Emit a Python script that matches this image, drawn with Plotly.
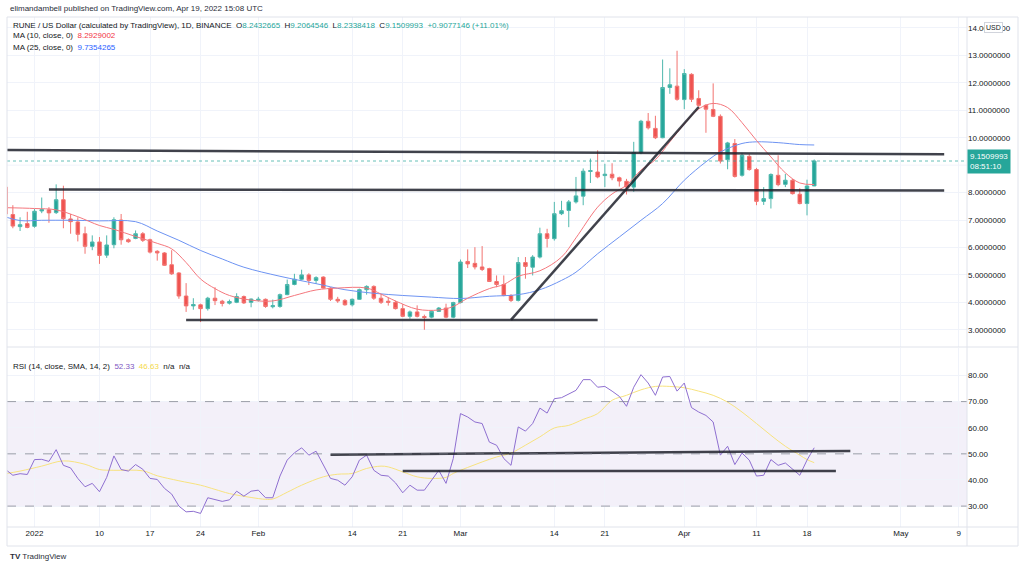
import pandas as pd
import plotly.graph_objects as go

# ---------------- data ----------------
dates = pd.date_range("2021-12-28", "2022-04-19", freq="D")

opens = [8.20, 7.20, 6.76, 6.87,
         6.77, 7.33, 7.37, 7.27, 7.74, 7.04, 6.93, 6.50, 6.04, 6.20, 5.72, 6.10, 7.00, 6.28, 6.33, 6.50,
         6.28, 5.86, 5.80, 5.37, 5.07, 4.23, 3.87, 3.91, 3.77, 4.15, 4.04, 3.97, 4.00, 4.21, 4.00,
         4.08, 4.11, 3.84, 3.85, 4.28, 4.65, 4.84, 5.00, 4.80, 4.92, 4.52, 4.11, 4.07, 3.91, 4.11, 4.46,
         4.58, 4.15, 4.04, 4.00, 3.77, 3.49, 3.65, 3.48, 3.46, 3.67, 3.79, 3.46,
         3.99, 5.49, 5.42, 5.29, 5.23, 4.76, 4.65, 4.25, 4.07, 5.45, 5.28, 5.65, 6.50, 6.32, 7.23, 7.35,
         7.66, 7.87, 8.77, 8.75, 8.62, 8.67, 8.54, 8.41, 8.20, 9.46, 10.60, 10.34, 10.00, 11.83, 11.88,
         11.39, 12.31, 11.43, 11.18, 11.03, 10.78, 9.20, 9.79, 8.63, 9.32, 8.84, 7.68, 7.78, 8.63, 8.30,
         8.45, 7.94, 7.60, 8.2432665]
highs = [8.25, 7.54, 7.10, 7.30,
         7.40, 7.82, 7.47, 8.30, 8.25, 7.22, 7.10, 6.76, 6.44, 6.38, 6.44, 7.10, 7.22, 6.33, 6.62, 6.56,
         6.32, 5.90, 5.83, 5.90, 5.10, 4.70, 4.15, 3.95, 4.20, 4.55, 4.09, 4.10, 4.33, 4.25, 4.14,
         4.20, 4.14, 4.10, 4.32, 4.83, 5.04, 5.19, 5.06, 4.95, 4.95, 4.55, 4.20, 4.12, 4.14, 4.50, 4.62,
         4.62, 4.30, 4.18, 4.06, 3.93, 3.70, 3.89, 3.55, 3.70, 3.83, 3.95, 4.02,
         5.56, 5.93, 6.01, 6.05, 5.26, 4.98, 4.98, 4.30, 5.65, 5.65, 5.72, 6.72, 6.68, 7.66, 7.70, 7.73,
         8.57, 8.88, 9.24, 9.54, 9.05, 9.07, 8.58, 8.50, 9.85, 10.65, 10.90, 10.80, 12.85, 12.53, 13.17,
         12.50, 12.35, 11.73, 11.22, 11.98, 10.85, 9.85, 9.95, 9.45, 9.40, 8.90, 8.20, 8.70, 9.36, 8.68,
         8.50, 8.16, 8.47, 9.2064546]
lows = [7.15, 6.70, 6.60, 6.70,
        6.72, 7.25, 6.90, 7.22, 6.70, 6.50, 6.22, 5.77, 5.90, 5.40, 5.62, 5.97, 6.10, 6.17, 6.30, 6.20,
        5.78, 5.52, 5.33, 5.00, 4.13, 3.65, 3.73, 3.28, 3.70, 3.90, 3.85, 3.92, 3.97, 3.94, 3.82,
        4.03, 3.80, 3.78, 3.80, 4.26, 4.62, 4.80, 4.63, 4.67, 4.50, 4.05, 3.98, 3.88, 3.85, 4.09, 4.28,
        4.09, 3.94, 3.88, 3.74, 3.46, 3.40, 3.45, 3.00, 3.42, 3.65, 3.42, 3.42,
        3.96, 5.25, 5.20, 5.14, 4.74, 4.55, 4.22, 4.01, 4.03, 4.86, 4.98, 5.60, 6.00, 6.25, 7.18, 6.74,
        7.60, 7.54, 8.35, 8.52, 8.20, 8.45, 8.22, 7.93, 8.03, 9.40, 10.30, 9.95, 9.98, 11.60, 11.35,
        11.04, 11.30, 11.10, 10.18, 10.75, 9.06, 8.85, 8.55, 8.58, 8.80, 7.54, 7.55, 7.42, 8.23, 8.20,
        7.93, 7.57, 7.17, 8.2338418]
closes = [7.22, 6.78, 6.83, 6.73,
          7.32, 7.38, 7.26, 7.74, 7.05, 6.94, 6.48, 6.04, 6.20, 5.71, 6.09, 7.01, 6.28, 6.21, 6.50, 6.26,
          5.83, 5.80, 5.35, 5.04, 4.23, 3.87, 3.92, 3.77, 4.15, 4.06, 3.96, 4.03, 4.21, 3.98, 4.12,
          4.11, 3.85, 3.88, 4.28, 4.65, 4.84, 5.00, 4.80, 4.90, 4.52, 4.11, 4.05, 3.91, 4.11, 4.46, 4.58,
          4.15, 4.00, 4.00, 3.77, 3.49, 3.65, 3.49, 3.45, 3.67, 3.79, 3.46, 3.99,
          5.47, 5.40, 5.29, 5.20, 4.76, 4.65, 4.25, 4.07, 5.45, 5.31, 5.65, 6.50, 6.33, 7.23, 7.34, 7.66,
          7.88, 8.78, 8.80, 8.57, 8.67, 8.54, 8.42, 8.20, 9.46, 10.60, 10.36, 10.00, 11.83, 11.93, 11.40,
          12.34, 11.40, 11.18, 11.04, 10.78, 9.15, 9.81, 8.59, 9.36, 8.84, 7.68, 7.78, 8.66, 8.29, 8.45,
          7.96, 7.60, 8.24, 9.1509993]

ma10_dates = ["2021-12-28", "2022-01-01", "2022-01-04", "2022-01-07", "2022-01-10", "2022-01-12",
              "2022-01-15", "2022-01-18", "2022-01-20", "2022-01-22", "2022-01-24", "2022-01-26",
              "2022-01-28", "2022-01-31", "2022-02-03", "2022-02-06", "2022-02-09", "2022-02-12",
              "2022-02-16", "2022-02-18", "2022-02-20", "2022-02-23", "2022-02-26", "2022-02-28",
              "2022-03-02", "2022-03-05", "2022-03-07", "2022-03-09", "2022-03-12", "2022-03-15",
              "2022-03-17", "2022-03-20", "2022-03-22", "2022-03-24", "2022-03-26", "2022-03-28",
              "2022-03-30", "2022-04-01", "2022-04-03", "2022-04-05", "2022-04-07", "2022-04-09",
              "2022-04-11", "2022-04-13", "2022-04-15", "2022-04-17", "2022-04-19"]
ma10_vals = [7.45, 7.42, 7.37, 7.12, 6.80, 6.66, 6.40, 6.15, 5.95, 5.45, 4.85, 4.50, 4.25, 4.08,
             4.05, 4.25, 4.45, 4.52, 4.52, 4.30, 4.05, 3.75, 3.72, 3.85, 4.15, 4.50, 4.65, 4.95, 5.15,
             5.65, 6.35, 7.47, 7.95, 8.27, 8.82, 9.20, 9.85, 10.50, 11.05, 11.25, 11.10, 10.55, 9.90,
             9.30, 8.72, 8.35, 8.2929002]

ma25_dates = ["2021-12-28", "2021-12-30", "2022-01-02", "2022-01-06", "2022-01-10", "2022-01-15",
              "2022-01-18", "2022-01-21", "2022-01-24", "2022-01-27", "2022-01-30", "2022-02-04",
              "2022-02-09", "2022-02-13", "2022-02-17", "2022-02-21", "2022-02-25", "2022-03-01",
              "2022-03-05", "2022-03-09", "2022-03-12", "2022-03-15", "2022-03-17", "2022-03-20",
              "2022-03-23", "2022-03-26", "2022-03-29", "2022-04-01", "2022-04-04", "2022-04-06",
              "2022-04-09", "2022-04-11", "2022-04-14", "2022-04-17", "2022-04-19"]
ma25_vals = [7.11, 6.98, 6.99, 6.99, 6.97, 6.94, 6.60, 6.26, 5.89, 5.58, 5.28, 4.95, 4.68, 4.46,
             4.33, 4.25, 4.19, 4.14, 4.22, 4.28, 4.46, 4.80, 5.10, 5.77, 6.38, 6.99, 7.60, 8.45, 9.12,
             9.48, 9.79, 9.85, 9.82, 9.75, 9.7354265]

rsi_vals = [44.0, 41.8, 42.4, 42.1,
            47.8, 47.9, 47.1, 51.6, 45.6, 44.6, 40.6, 37.4, 38.7, 35.5, 41.0, 49.2, 44.0, 43.4, 45.9, 44.1,
            40.6, 40.2, 36.8, 34.6, 30.0, 27.8, 28.0, 27.2, 33.2, 32.6, 31.8, 32.4, 35.7, 33.8, 35.7,
            36.1, 33.2, 33.2, 41.5, 47.6, 50.4, 52.3, 49.5, 51.0, 45.6, 40.6, 39.9, 38.0, 41.2, 47.6, 49.5,
            43.7, 41.8, 41.5, 38.9, 35.1, 38.0, 36.1, 36.1, 39.9, 43.7, 38.7, 48.2,
            65.4, 64.1, 62.2, 61.6, 54.5, 53.3, 48.2, 45.6, 60.3, 58.7, 61.6, 67.5, 65.6, 71.1, 71.5, 73.0,
            74.3, 78.4, 78.4, 75.5, 75.8, 74.0, 72.0, 68.2, 75.5, 80.3, 77.1, 72.4, 79.4, 79.6, 74.0,
            77.1, 67.7, 66.0, 64.7, 62.2, 49.5, 52.9, 45.9, 50.3, 47.6, 41.5, 41.8, 47.8, 45.6, 46.5,
            44.0, 41.8, 47.6, 52.33]

rsi_ma_dates = ["2021-12-28", "2021-12-30", "2022-01-02", "2022-01-05", "2022-01-08", "2022-01-10",
                "2022-01-12", "2022-01-16", "2022-01-18", "2022-01-21", "2022-01-24", "2022-01-26",
                "2022-01-28", "2022-01-31", "2022-02-02", "2022-02-03", "2022-02-05", "2022-02-07",
                "2022-02-10", "2022-02-12", "2022-02-14", "2022-02-16", "2022-02-18", "2022-02-19",
                "2022-02-21", "2022-02-23", "2022-02-25", "2022-02-27", "2022-02-28", "2022-03-02",
                "2022-03-04", "2022-03-06", "2022-03-08", "2022-03-10", "2022-03-12", "2022-03-14",
                "2022-03-16", "2022-03-18", "2022-03-20", "2022-03-22", "2022-03-24", "2022-03-26",
                "2022-03-28", "2022-03-30", "2022-04-01", "2022-04-03", "2022-04-05", "2022-04-07",
                "2022-04-09", "2022-04-11", "2022-04-13", "2022-04-15", "2022-04-17", "2022-04-18",
                "2022-04-19"]
rsi_ma_vals = [42.4, 43.4, 45.3, 47.3, 46.0, 44.0, 43.7, 43.5, 41.6, 39.7, 38.0, 36.4, 34.8, 33.3,
               32.6, 32.7, 35.3, 38.0, 41.2, 42.2, 42.5, 44.4, 45.3, 45.0, 43.1, 41.2, 40.6, 41.0,
               42.5, 44.8, 46.9, 48.8, 50.3, 53.3, 56.5, 59.9, 60.9, 63.2, 65.4, 70.5, 72.4, 74.5,
               75.8, 75.8, 75.3, 74.0, 72.4, 69.8, 66.0, 61.6, 57.1, 52.9, 49.5, 47.8, 46.63]

# user-drawn trend lines
line_top_d, line_top_v = ["2021-12-28", "2022-05-07"], [9.55, 9.40]
line_mid_d, line_mid_v = ["2022-01-03", "2022-05-07"], [8.11, 8.08]
line_low_d, line_low_v = ["2022-01-22", "2022-03-20"], [3.36, 3.36]
line_up_d, line_up_v = ["2022-03-08", "2022-04-03"], [3.36, 11.12]
rsi_line1_d, rsi_line1_v = ["2022-02-11", "2022-04-24"], [49.7, 51.1]
rsi_line2_d, rsi_line2_v = ["2022-02-21", "2022-04-22"], [43.4, 43.4]

x_tickvals = ["2022-01-01", "2022-01-10", "2022-01-17", "2022-01-24", "2022-02-01", "2022-02-14",
              "2022-02-21", "2022-03-01", "2022-03-14", "2022-03-21", "2022-04-01", "2022-04-11",
              "2022-04-18", "2022-05-01", "2022-05-09"]
x_ticktext = ["2022", "10", "17", "24", "Feb", "14", "21", "Mar", "14", "21", "Apr", "11", "18",
              "May", "9"]
price_ticks = [3, 4, 5, 6, 7, 8, 10, 11, 12, 13, 14]
price_grid = [9]
rsi_ticks = [30, 40, 50, 60, 70, 80]
last_price = 9.1509993

# ---------------- figure ----------------
FONT = "Liberation Sans"
TXT = "#131722"
GRID = "#f0f3fa"
TEAL = "#26a69a"
RED = "#ef5350"

fig = go.Figure()

fig.add_trace(go.Candlestick(
    x=dates, open=opens, high=highs, low=lows, close=closes,
    increasing=dict(line=dict(color="#4fb8ad", width=1), fillcolor=TEAL),
    decreasing=dict(line=dict(color="#f27370", width=1), fillcolor=RED),
    whiskerwidth=0, xaxis="x", yaxis="y", hoverinfo="skip"))

fig.add_trace(go.Scatter(x=ma25_dates, y=ma25_vals, mode="lines", line=dict(color="#6d93f2", width=1, shape="spline"),
                         xaxis="x", yaxis="y", hoverinfo="skip"))
fig.add_trace(go.Scatter(x=ma10_dates, y=ma10_vals, mode="lines", line=dict(color="#f4777d", width=1, shape="spline"),
                         xaxis="x", yaxis="y", hoverinfo="skip"))

for dd, vv in [(line_top_d, line_top_v), (line_mid_d, line_mid_v), (line_low_d, line_low_v), (line_up_d, line_up_v)]:
    fig.add_trace(go.Scatter(x=dd, y=vv, mode="lines", line=dict(color="rgba(30,33,44,0.85)", width=2.5),
                             xaxis="x", yaxis="y", hoverinfo="skip"))

fig.add_trace(go.Scatter(x=rsi_ma_dates, y=rsi_ma_vals, mode="lines", line=dict(color="#f7e27f", width=1, shape="spline"),
                         xaxis="x", yaxis="y2", hoverinfo="skip"))
fig.add_trace(go.Scatter(x=dates, y=rsi_vals, mode="lines", line=dict(color="#8e6fd0", width=1),
                         xaxis="x", yaxis="y2", hoverinfo="skip"))
for dd, vv in [(rsi_line1_d, rsi_line1_v), (rsi_line2_d, rsi_line2_v)]:
    fig.add_trace(go.Scatter(x=dd, y=vv, mode="lines", line=dict(color="rgba(30,33,44,0.85)", width=2.5),
                             xaxis="x", yaxis="y2", hoverinfo="skip"))

# geometry helpers (pixel layout of the snapshot)
L, R, T, B = 7, 57, 17, 40
W, H = 1024, 567
pw, ph = W - L - R, H - T - B
def px(x):
    return (x - L) / pw
def py(y):
    return (H - B - y) / ph

base = pd.Timestamp("2022-01-01")
x0 = base + pd.Timedelta(days=-3.81)
x1 = base + pd.Timedelta(days=129.16)

fig.update_layout(
    width=W, height=H, margin=dict(l=L, r=R, t=T, b=B, autoexpand=False),
    paper_bgcolor="white", plot_bgcolor="white", showlegend=False, hovermode=False,
    font=dict(family=FONT, size=8, color=TXT),
    xaxis=dict(type="date", range=[x0, x1], anchor="y2", tickvals=x_tickvals, ticktext=x_ticktext,
               showgrid=True, gridcolor=GRID, gridwidth=1, zeroline=False, showline=False, ticks="",
               tickfont=dict(size=8, color=TXT), rangeslider=dict(visible=False), fixedrange=True),
    yaxis=dict(domain=[py(346.5), 1], range=[2.39, 14.40], side="right", anchor="x",
               tickvals=price_ticks, tickformat=".7f", showgrid=True, gridcolor=GRID, zeroline=False,
               showline=False, ticks="", tickfont=dict(size=8, color=TXT), fixedrange=True),
    yaxis2=dict(domain=[0, py(347.5)], range=[22.0, 90.7], side="right", anchor="x",
                tickvals=rsi_ticks, tickformat=".2f", showgrid=True, gridcolor=GRID, zeroline=False,
                showline=False, ticks="", tickfont=dict(size=8, color=TXT), fixedrange=True),
)

shapes = []
# hidden-label gridline(s) of the price pane
for gv in price_grid:
    shapes.append(dict(type="line", xref="x domain", yref="y", x0=0, x1=1, y0=gv, y1=gv,
                       line=dict(color=GRID, width=1), layer="below"))
# RSI band and levels
shapes.append(dict(type="rect", xref="x domain", yref="y2", x0=0, x1=1, y0=30, y1=70,
                   fillcolor="rgba(126,87,194,0.09)", line=dict(width=0), layer="below"))
for lv in [30, 50, 70]:
    shapes.append(dict(type="line", xref="x domain", yref="y2", x0=0, x1=1, y0=lv, y1=lv,
                       line=dict(color="rgba(120,123,134,0.7)", width=1, dash="dash")))
# last price dotted line
shapes.append(dict(type="line", xref="x domain", yref="y", x0=0, x1=1, y0=last_price, y1=last_price,
                   line=dict(color="rgba(38,166,154,0.7)", width=1, dash="dot")))
# frame lines
FR = "#e0e3eb"
shapes.append(dict(type="rect", xref="paper", yref="paper", x0=px(7), x1=px(1018), y0=py(546), y1=py(17),
                   line=dict(color=FR, width=1), fillcolor="rgba(0,0,0,0)"))
shapes.append(dict(type="line", xref="paper", yref="paper", x0=1, x1=1, y0=py(546), y1=py(17),
                   line=dict(color=FR, width=1)))
shapes.append(dict(type="line", xref="paper", yref="paper", x0=0, x1=px(1018), y0=py(347), y1=py(347),
                   line=dict(color=FR, width=1)))
shapes.append(dict(type="line", xref="paper", yref="paper", x0=0, x1=px(1018), y0=0, y1=0,
                   line=dict(color=FR, width=1)))
fig.update_layout(shapes=shapes)

G = TEAL
ann = []
ann.append(dict(xref="paper", yref="paper", x=px(8), y=py(8.5), xanchor="left", yanchor="middle",
                text="elimandambell published on TradingView.com, Apr 19, 2022 15:08 UTC",
                showarrow=False, font=dict(size=8, color="#2a2e39")))
ann.append(dict(xref="paper", yref="paper", x=px(11), y=py(25.5), xanchor="left", yanchor="middle",
                text=("RUNE / US Dollar (calculated by TradingView), 1D, BINANCE&nbsp;&nbsp;"
                      f"O<span style='color:{G}'>8.2432665</span>&nbsp;&nbsp;"
                      f"H<span style='color:{G}'>9.2064546</span>&nbsp;&nbsp;"
                      f"L<span style='color:{G}'>8.2338418</span>&nbsp;&nbsp;"
                      f"C<span style='color:{G}'>9.1509993</span>&nbsp;&nbsp;"
                      f"<span style='color:{G}'>+0.9077146 (+11.01%)</span>"),
                showarrow=False, font=dict(size=8, color=TXT)))
ann.append(dict(xref="paper", yref="paper", x=px(11), y=py(36), xanchor="left", yanchor="middle",
                text="MA (10, close, 0)&nbsp;&nbsp;<span style='color:#f23645'>8.2929002</span>",
                showarrow=False, font=dict(size=8, color=TXT)))
ann.append(dict(xref="paper", yref="paper", x=px(11), y=py(47), xanchor="left", yanchor="middle",
                text="MA (25, close, 0)&nbsp;&nbsp;<span style='color:#2962ff'>9.7354265</span>",
                showarrow=False, font=dict(size=8, color=TXT)))
ann.append(dict(xref="paper", yref="paper", x=px(11), y=py(366), xanchor="left", yanchor="middle",
                text=("RSI (14, close, SMA, 14, 2)&nbsp;&nbsp;<span style='color:#7e57c2'>52.33</span>&nbsp;&nbsp;"
                      "<span style='color:#f5d94a'>46.63</span>&nbsp;&nbsp;n/a&nbsp;&nbsp;n/a"),
                showarrow=False, font=dict(size=8, color=TXT)))
ann.append(dict(xref="paper", yref="y", x=1, y=last_price, xanchor="left", yanchor="middle",
                text="9.1509993<br>08:51:10", showarrow=False, align="left",
                bgcolor=TEAL, borderpad=2, font=dict(size=8, color="white")))
ann.append(dict(xref="paper", yref="paper", x=px(993), y=py(27), xanchor="center", yanchor="middle",
                text="USD", showarrow=False, bgcolor="white", bordercolor="#d1d4dc", borderwidth=1,
                borderpad=1, font=dict(size=7, color=TXT)))
ann.append(dict(xref="paper", yref="paper", x=px(8), y=py(556), xanchor="left", yanchor="middle",
                text="<b>TV</b> TradingView", showarrow=False, font=dict(size=8, color="#2a2e39")))
fig.update_layout(annotations=ann)

fig.write_html("out.html", config={"displayModeBar": False, "staticPlot": True},
               post_script="document.body.style.margin='0';document.body.style.padding='0';")
